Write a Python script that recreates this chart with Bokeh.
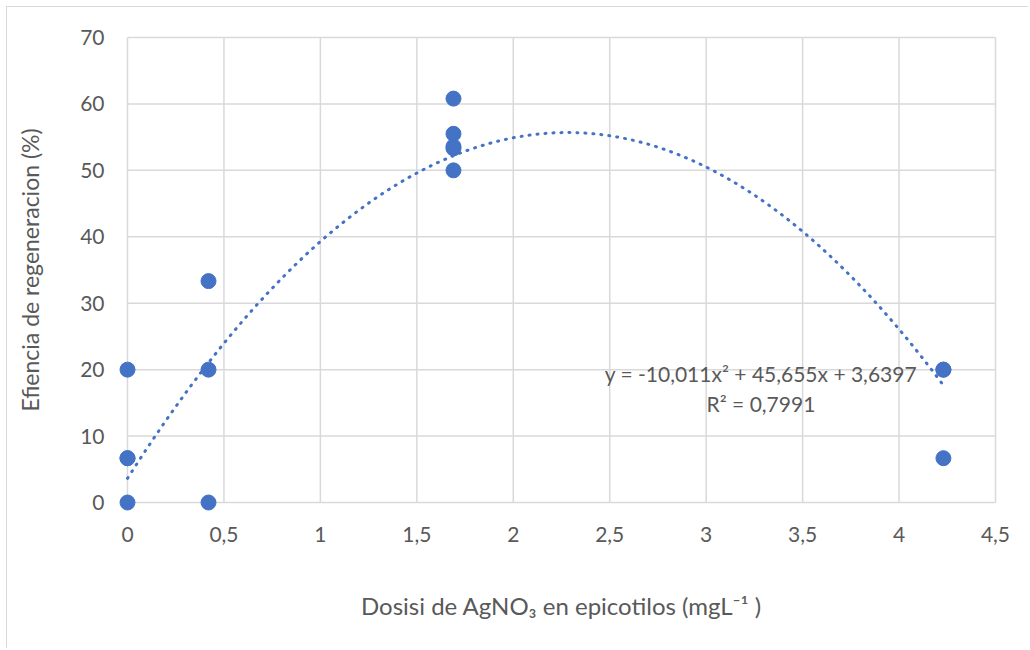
import numpy as np
from bokeh.plotting import figure
from bokeh.models import Range1d, FixedTicker, Label
from bokeh.embed import file_html
from bokeh.resources import INLINE

# ---- data ----
dose = [0, 0, 0, 0, 0.42, 0.42, 0.42, 1.69, 1.69, 1.69, 1.69, 1.69, 4.23, 4.23, 4.23]
eff = [20, 6.67, 6.67, 0, 33.33, 20, 0, 60.8, 55.5, 53.3, 53.6, 50, 20, 20, 6.67]
coef = [-10.011, 45.655, 3.6397]   # trendline y = a x^2 + b x + c
x_ticks = [0, 0.5, 1, 1.5, 2, 2.5, 3, 3.5, 4, 4.5]
x_tick_labels = ["0", "0,5", "1", "1,5", "2", "2,5", "3", "3,5", "4", "4,5"]
y_ticks = [0, 10, 20, 30, 40, 50, 60, 70]
eq_text = "y = -10,011x\u00b2 + 45,655x + 3,6397"
r2_text = "R\u00b2 = 0,7991"
x_title = "Dosisi de AgNO\u2083 en epicotilos (mgL\u207b\u00b9 )"
y_title = "Efiencia de regeneracion (%)"

FONT = "Lato"
TXT = "#595959"
BLUE = "#4472C4"
GRID = "#D9D9D9"

xmin, xmax = x_ticks[0], x_ticks[-1]
ymin, ymax = y_ticks[0], y_ticks[-1]
xpad = 10 / (868 / (xmax - xmin))
ypad = 10 / (465 / (ymax - ymin))

p = figure(width=1022, height=642, output_backend="svg", toolbar_location=None,
           x_range=Range1d(xmin - xpad, xmax + xpad), y_range=Range1d(ymin - ypad, ymax + ypad),
           min_border_left=110, min_border_right=24, min_border_top=20, min_border_bottom=137)
p.styles = {"margin-left": "6px", "margin-top": "6px",
            "border-top": "1.5px solid #D9D9D9", "border-left": "1.5px solid #D9D9D9"}
p.outline_line_color = None
p.background_fill_color = "white"
p.border_fill_color = "white"
p.xgrid.visible = False
p.ygrid.visible = False

for ax in (p.xaxis[0], p.yaxis[0]):
    ax.axis_line_color = None
    ax.major_tick_line_color = None
    ax.minor_tick_line_color = None
    ax.major_label_text_font = FONT
    ax.major_label_text_color = TXT
    ax.major_label_text_font_size = "21px"
    ax.axis_label_text_font = FONT
    ax.axis_label_text_color = TXT
    ax.axis_label_text_font_style = "normal"

p.xaxis.axis_label_text_font_size = "24px"
p.yaxis.axis_label_text_font_size = "23px"
p.xaxis.ticker = FixedTicker(ticks=x_ticks)
p.xaxis.major_label_overrides = {t: l for t, l in zip(x_ticks, x_tick_labels)}
p.yaxis.ticker = FixedTicker(ticks=y_ticks)
p.xaxis.major_label_standoff = 8
p.yaxis.major_label_standoff = 7
p.xaxis.axis_label = x_title
p.yaxis.axis_label = y_title
p.xaxis.axis_label_standoff = 46
p.yaxis.axis_label_standoff = 33

# gridlines limited to the tick extent
p.segment(x0=x_ticks, y0=[ymin] * len(x_ticks), x1=x_ticks, y1=[ymax] * len(x_ticks),
          line_color=GRID, line_width=1.5, level="underlay")
p.segment(x0=[xmin] * len(y_ticks), y0=y_ticks, x1=[xmax] * len(y_ticks), y1=y_ticks,
          line_color=GRID, line_width=1.5, level="underlay")

# trendline
xs = np.linspace(0, max(dose), 200)
ys = coef[0] * xs ** 2 + coef[1] * xs + coef[2]
p.line(xs, ys, line_color=BLUE, line_width=3, line_dash="1 7", line_cap="round")

p.scatter(dose, eff, size=15, fill_color=BLUE, line_color=BLUE)

p.add_layout(Label(x=3.284, y=19.4, text=eq_text, text_align="center", text_baseline="middle",
                   text_font=FONT, text_font_size="21px", text_color=TXT))
p.add_layout(Label(x=3.284, y=14.9, text=r2_text, text_align="center", text_baseline="middle",
                   text_font=FONT, text_font_size="21px", text_color=TXT))

open("out.html", "w").write(file_html(p, INLINE))
